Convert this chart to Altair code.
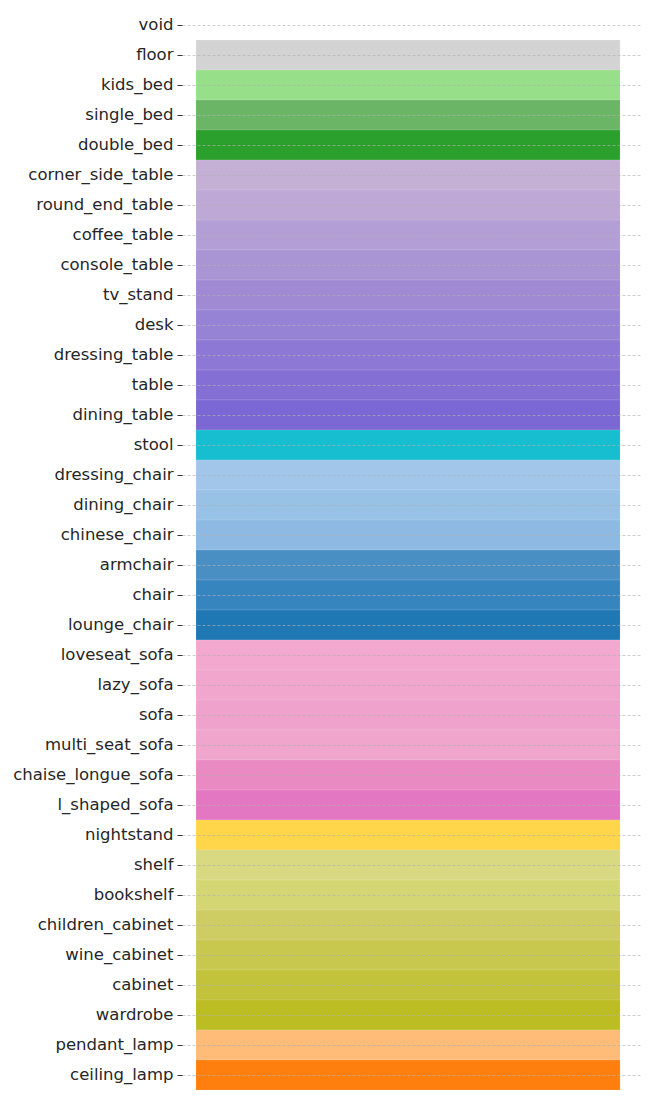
import altair as alt
import pandas as pd

categories = [
    "void", "floor", "kids_bed", "single_bed", "double_bed",
    "corner_side_table", "round_end_table", "coffee_table", "console_table",
    "tv_stand", "desk", "dressing_table", "table", "dining_table", "stool",
    "dressing_chair", "dining_chair", "chinese_chair", "armchair", "chair",
    "lounge_chair", "loveseat_sofa", "lazy_sofa", "sofa", "multi_seat_sofa",
    "chaise_longue_sofa", "l_shaped_sofa", "nightstand", "shelf", "bookshelf",
    "children_cabinet", "wine_cabinet", "cabinet", "wardrobe", "pendant_lamp",
    "ceiling_lamp",
]
colors = [
    "#ffffff", "#d3d3d3", "#98df8a", "#6bb566", "#2ca02c",
    "#c5b0d5", "#bda8d6", "#b39fd6", "#a994d4",
    "#a08ad4", "#9783d5", "#8d78d5", "#8470d5", "#7b68d4", "#17becf",
    "#a1c6ea", "#98c1e6", "#8db9e2", "#4a8fc4", "#3785bf",
    "#1f77b4", "#f3a9cf", "#f1a6cd", "#efa3cc", "#efa5cc",
    "#e98ac3", "#e377c2", "#ffd54a", "#d8d981", "#d4d674",
    "#cdcd63", "#c8c84f", "#c2c23b", "#bcbd22", "#ffbb78",
    "#ff7f0e",
]
starts = [0] * len(categories)
ends = [1] * len(categories)

df = pd.DataFrame({"cat": categories, "color": colors, "start": starts, "end": ends})
df = df[df["cat"] != "void"]

chart = (
    alt.Chart(df)
    .mark_bar(stroke="white", strokeWidth=0.4, strokeOpacity=0.3)
    .encode(
        x=alt.X("start:Q", scale=alt.Scale(domain=[-0.033, 1.047], nice=False, zero=False), axis=None),
        x2="end:Q",
        y=alt.Y(
            "cat:N",
            sort=categories,
            scale=alt.Scale(domain=categories, paddingInner=0, paddingOuter=0),
            axis=alt.Axis(
                title=None,
                domain=False,
                ticks=True,
                tickSize=5,
                tickColor="#333333",
                tickWidth=1,
                labelFont="DejaVu Sans",
                labelFontSize=16.5,
                labelColor="#262626",
                labelPadding=4,
                grid=True,
                gridColor="#b0b0b0",
                gridDash=[3, 2],
                gridWidth=0.8,
                gridOpacity=0.8,
                zindex=1,
            ),
        ),
        color=alt.Color("color:N", scale=None, legend=None),
    )
    .properties(
        width=458,
        height=1080,
        padding={"left": 4, "top": 2, "right": 2, "bottom": 2},
        background="white",
    )
    .configure_view(strokeWidth=0)
)

chart.save("out.html", embed_options={"renderer": "svg", "actions": False})
